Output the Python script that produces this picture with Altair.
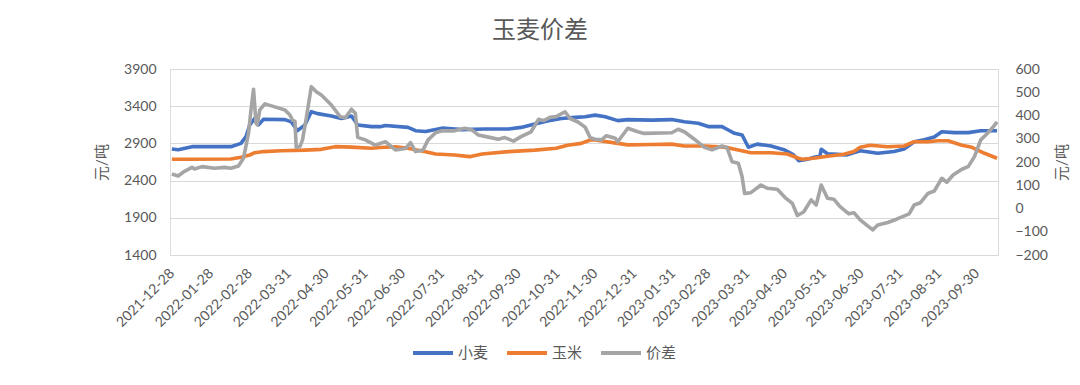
import altair as alt
import pandas as pd

# ---- data ----
wheat_dates = ["2021-12-28","2022-01-02","2022-01-13","2022-02-13","2022-02-21","2022-02-25","2022-02-28",
    "2022-03-04","2022-03-07","2022-03-11","2022-03-28","2022-04-02","2022-04-07","2022-04-13","2022-04-18",
    "2022-04-23","2022-05-04","2022-05-12","2022-05-20","2022-05-25","2022-06-05","2022-06-12","2022-06-16",
    "2022-07-04","2022-07-10","2022-07-18","2022-07-31","2022-08-16","2022-09-03","2022-09-22","2022-10-02",
    "2022-10-13","2022-10-24","2022-11-03","2022-11-14","2022-11-22","2022-11-30","2022-12-08","2022-12-18",
    "2022-12-26","2023-01-14","2023-01-30","2023-02-09","2023-02-20","2023-02-28","2023-03-11","2023-03-16",
    "2023-03-21","2023-03-27","2023-04-01","2023-04-08","2023-04-19","2023-04-30","2023-05-07","2023-05-11",
    "2023-05-17","2023-05-23","2023-05-28","2023-05-29","2023-06-03","2023-06-11","2023-06-18","2023-06-29",
    "2023-07-13","2023-07-26","2023-08-03","2023-08-11","2023-08-19","2023-08-27","2023-09-02","2023-09-12",
    "2023-09-23","2023-10-03","2023-10-16"]
wheat_vals = [2825,2815,2856,2856,2900,2990,3147,
    3237,3150,3224,3220,3190,3071,3150,3326,
    3300,3268,3235,3268,3147,3125,3125,3140,
    3115,3071,3060,3105,3085,3093,3093,3115,
    3160,3206,3235,3250,3259,3280,3259,3206,
    3220,3213,3220,3190,3170,3126,3126,3080,
    3035,3013,2848,2890,2865,2811,2745,2668,
    2685,2712,2727,2821,2760,2753,2745,2802,
    2767,2790,2825,2923,2950,2985,3057,3045,
    3045,3070,3070]

corn_dates = ["2021-12-28","2022-01-13","2022-02-13","2022-02-21","2022-02-28","2022-03-04","2022-03-11",
    "2022-03-25","2022-04-13","2022-04-26","2022-05-07","2022-05-20","2022-06-05","2022-06-12","2022-06-24",
    "2022-07-04","2022-07-18","2022-07-26","2022-08-10","2022-08-22","2022-09-01","2022-09-22","2022-10-13",
    "2022-10-30","2022-11-08","2022-11-19","2022-11-26","2022-11-30","2022-12-18","2022-12-26","2023-01-14",
    "2023-01-30","2023-02-09","2023-02-25","2023-03-13","2023-03-24","2023-04-03","2023-04-19","2023-05-02",
    "2023-05-11","2023-05-14","2023-05-23","2023-06-03","2023-06-16","2023-06-24","2023-06-29","2023-07-07",
    "2023-07-21","2023-08-03","2023-08-11","2023-08-22","2023-08-30","2023-09-07","2023-09-18","2023-09-26",
    "2023-10-06","2023-10-16"]
corn_vals = [2686,2686,2690,2713,2744,2775,2790,
    2802,2810,2820,2856,2850,2835,2845,2856,
    2835,2789,2757,2744,2722,2757,2789,2810,
    2835,2875,2900,2945,2945,2900,2880,2885,
    2890,2865,2865,2850,2810,2775,2775,2757,
    2700,2686,2700,2727,2755,2790,2847,2875,
    2856,2865,2923,2923,2935,2935,2875,2848,
    2767,2700]

spread_dates = ["2021-12-28","2022-01-02","2022-01-07","2022-01-13","2022-01-15","2022-01-21","2022-01-31",
    "2022-02-08","2022-02-13","2022-02-19","2022-02-23","2022-02-27","2022-03-01","2022-03-03","2022-03-05",
    "2022-03-06","2022-03-08","2022-03-12","2022-03-20","2022-03-28","2022-04-01","2022-04-03","2022-04-05",
    "2022-04-06","2022-04-09","2022-04-11","2022-04-14","2022-04-18","2022-04-22","2022-04-26","2022-05-04",
    "2022-05-11","2022-05-15","2022-05-20","2022-05-23","2022-05-25","2022-05-31","2022-06-08","2022-06-12",
    "2022-06-16","2022-06-24","2022-07-02","2022-07-06","2022-07-10","2022-07-16","2022-07-20","2022-07-26",
    "2022-07-31","2022-08-10","2022-08-18","2022-08-24","2022-08-29","2022-09-06","2022-09-14","2022-09-19",
    "2022-09-26","2022-10-02","2022-10-10","2022-10-16","2022-10-20","2022-10-25","2022-10-30","2022-11-06",
    "2022-11-10","2022-11-16","2022-11-22","2022-11-26","2022-11-30","2022-12-05","2022-12-09","2022-12-16",
    "2022-12-18","2022-12-26","2023-01-03","2023-01-08","2023-01-30","2023-02-04","2023-02-09","2023-02-17",
    "2023-02-25","2023-03-03","2023-03-11","2023-03-15","2023-03-19","2023-03-24","2023-03-27","2023-03-29",
    "2023-04-03","2023-04-11","2023-04-16","2023-04-24","2023-04-30","2023-05-06","2023-05-10","2023-05-15",
    "2023-05-21","2023-05-25","2023-05-29","2023-06-03","2023-06-08","2023-06-13","2023-06-20","2023-06-24",
    "2023-06-29","2023-07-09","2023-07-13","2023-07-21","2023-07-28","2023-08-07","2023-08-11","2023-08-16",
    "2023-08-22","2023-08-27","2023-09-02","2023-09-06","2023-09-11","2023-09-18","2023-09-23","2023-09-28",
    "2023-10-03","2023-10-07","2023-10-12","2023-10-16"]
spread_vals = [148,140,160,177,170,180,173,
    177,173,183,216,323,424,513,366,
    360,424,450,437,424,402,380,375,
    263,267,295,388,524,502,488,445,
    395,390,427,410,306,295,273,280,
    287,252,258,283,245,252,295,326,
    334,334,345,338,316,307,298,305,
    290,309,330,384,378,392,395,416,
    387,373,350,305,298,295,313,302,
    287,345,330,323,326,341,330,298,
    263,252,269,262,201,195,137,65,
    68,101,87,83,48,22,-30,-15,
    37,15,101,44,40,8,-23,-18,
    -49,-92,-71,-60,-46,-23,15,25,
    65,75,130,113,144,169,180,223,
    295,316,345,373]

series_names = ["小麦", "玉米", "价差"]
series_colors = ["#4472C4", "#ED7D31", "#A5A5A5"]
tick_dates = ["2021-12-28","2022-01-28","2022-02-28","2022-03-31","2022-04-30","2022-05-31","2022-06-30",
    "2022-07-31","2022-08-31","2022-09-30","2022-10-31","2022-11-30","2022-12-31","2023-01-31","2023-02-28",
    "2023-03-31","2023-04-30","2023-05-31","2023-06-30","2023-07-31","2023-08-31","2023-09-30"]
left_ticks = [1400, 1900, 2400, 2900, 3400, 3900]
right_ticks = [-200, -100, 0, 100, 200, 300, 400, 500, 600]

FONT = "Lato, 'Noto Sans CJK SC', sans-serif"
TXT = "#595959"

df_left = pd.concat([
    pd.DataFrame({"date": wheat_dates, "value": wheat_vals, "series": series_names[0]}),
    pd.DataFrame({"date": corn_dates, "value": corn_vals, "series": series_names[1]}),
])
df_right = pd.DataFrame({"date": spread_dates, "value": spread_vals, "series": series_names[2]})


def dt(s, h=0):
    y, m, d = (int(p) for p in s.split("-"))
    return alt.DateTime(year=y, month=m, date=d, hours=h, utc=True)


x_enc = alt.X(
    "date:T",
    title=None,
    scale=alt.Scale(type="utc", domain=[dt("2021-12-26", 12), dt("2023-10-16", 18)]),
    axis=alt.Axis(values=[dt(t) for t in tick_dates],
                  labelExpr="utcFormat(datum.value, '%Y-%m-%d')",
                  labelAngle=-45, labelAlign="right", labelBaseline="middle", grid=False,
                  ticks=False, domain=False, labelPadding=16, labelFontSize=14,
                  labelColor=TXT, labelFont=FONT, labelOverlap=False, labelFlush=False),
)

color_enc = alt.Color(
    "series:N",
    scale=alt.Scale(domain=series_names, range=series_colors),
    legend=alt.Legend(orient="none", legendX=241, legendY=262, direction="horizontal", title=None,
                      symbolType="stroke", symbolSize=1600, symbolStrokeWidth=4,
                      labelFontSize=15, labelColor=TXT, labelFont=FONT, columnPadding=10,
                      labelOffset=3),
)

left = alt.Chart(df_left).mark_line(strokeWidth=3.6, strokeJoin="round").encode(
    x=x_enc,
    y=alt.Y("value:Q",
            scale=alt.Scale(domain=[1400, 3900], nice=False, zero=False),
            axis=alt.Axis(values=left_ticks, format="d", title="元/吨", grid=True, gridColor="#D9D9D9",
                          domain=False, ticks=False, labelPadding=14, titlePadding=14,
                          labelFontSize=14, labelColor=TXT, labelFont=FONT,
                          titleFontSize=15, titleFontWeight="normal", titleColor=TXT, titleFont=FONT)),
    color=color_enc,
    detail="series:N",
)

right = alt.Chart(df_right).mark_line(strokeWidth=3.6, strokeJoin="round").encode(
    x=x_enc,
    y=alt.Y("value:Q",
            scale=alt.Scale(domain=[-200, 600], nice=False, zero=False),
            axis=alt.Axis(values=right_ticks, format="d", orient="right", title="元/吨", grid=False,
                          domain=False, ticks=False, labelPadding=17, titlePadding=22,
                          titleAngle=270, labelFontSize=14, labelColor=TXT, labelFont=FONT,
                          titleFontSize=15, titleFontWeight="normal", titleColor=TXT, titleFont=FONT)),
    color=color_enc,
)

chart = alt.layer(left, right).resolve_scale(y="independent").properties(
    width=828,
    height=186,
    autosize=alt.AutoSizeParams(type="none"),
    padding={"left": 162, "top": 61, "right": 74, "bottom": 122},
    title=alt.Title("玉麦价差", fontSize=24, font=FONT, color=TXT, fontWeight="normal",
                    anchor="middle", offset=19, dx=-44),
).configure_view(stroke=None).configure(background="white")

chart.save("out.html", embed_options={"renderer": "svg", "actions": False})
